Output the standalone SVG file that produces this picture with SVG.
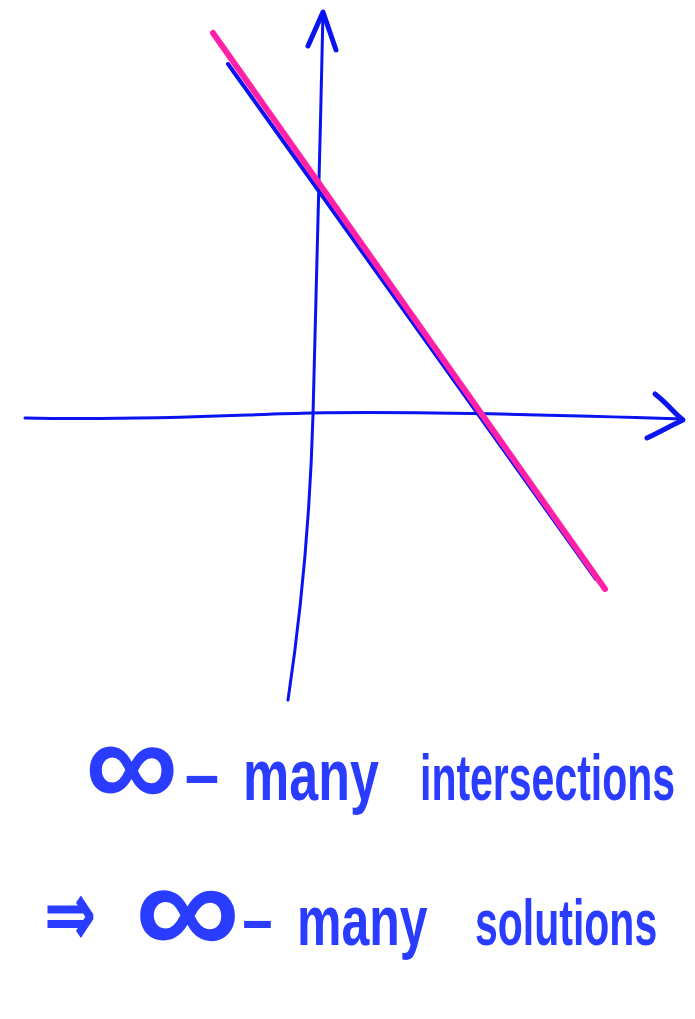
<svg xmlns="http://www.w3.org/2000/svg" width="695" height="1019" viewBox="0 0 695 1019">
<style>
.ax{fill:none;stroke:#0a14f0;stroke-width:3;stroke-linecap:round;stroke-linejoin:round}
.axh{fill:none;stroke:#0a14f0;stroke-width:5;stroke-linecap:round;stroke-linejoin:round}
.t{font-family:"Liberation Sans",Arial,sans-serif;font-weight:bold;fill:#2a3cff}
</style>
<rect width="695" height="1019" fill="#ffffff"/>
<g id="axes">
<path class="ax" d="M288,700 C300,620 310,520 313,415 C316,300 320,150 323,12"/>
<path class="axh" d="M308,46 L323,12 L336,50"/>
<path class="ax" d="M25,418 C150,421 250,414 312,413 C420,411 560,415 683,419"/>
<path class="axh" d="M655,394 C668,404 673,412 683,420 C670,426 660,432 647,438"/>
</g>
<g id="lines">
<line x1="228" y1="64" x2="596" y2="579" stroke="#0a14f0" stroke-width="4" stroke-linecap="round"/>
<line x1="213" y1="33" x2="605" y2="589" stroke="#ff22a8" stroke-width="6" stroke-linecap="round"/>
</g>
<g id="text">
<text class="t" x="85" y="808" font-size="130" textLength="93" lengthAdjust="spacingAndGlyphs">∞</text>
<text class="t" x="182" y="795" font-size="60" textLength="40" lengthAdjust="spacingAndGlyphs">-</text>
<text class="t" transform="translate(243,800) scale(1,1.4)" font-size="52">many</text>
<text class="t" transform="translate(420,800) scale(1,1.6)" font-size="41">intersections</text>
<text class="t" x="45" y="945" font-size="90" textLength="50" lengthAdjust="spacingAndGlyphs">⇒</text>
<text class="t" x="135" y="956" font-size="140" textLength="105" lengthAdjust="spacingAndGlyphs">∞</text>
<text class="t" x="240" y="940" font-size="60" textLength="35" lengthAdjust="spacingAndGlyphs">-</text>
<text class="t" transform="translate(297,945) scale(1,1.4)" font-size="50">many</text>
<text class="t" transform="translate(475,945) scale(1,1.6)" font-size="41">solutions</text>
</g>
</svg>
